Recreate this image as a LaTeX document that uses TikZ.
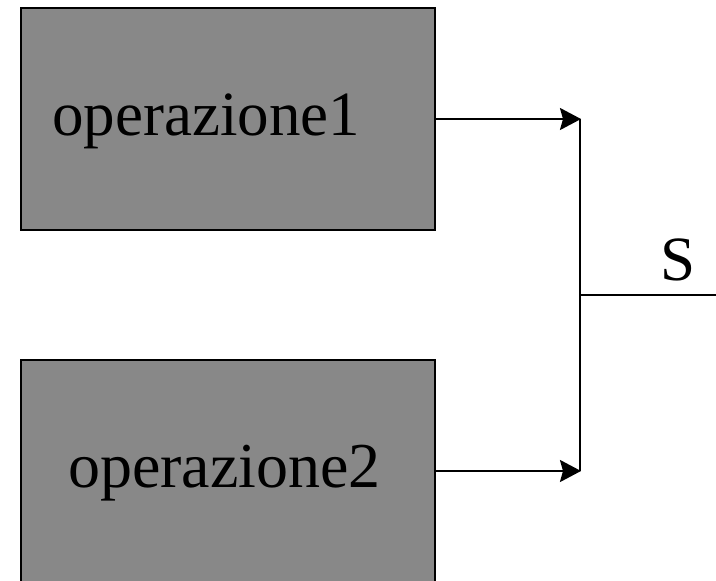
\documentclass[tikz,border=0pt]{standalone}
\usepackage{fontspec}
\setmainfont{Liberation Serif}
\usetikzlibrary{arrows.meta}
\begin{document}
\begin{tikzpicture}[x=1pt,y=-1pt,
  opbox/.style={draw=black, line width=2pt, fill=opgray, rectangle,
    minimum width=414pt, minimum height=222pt, inner sep=0pt},
  optext/.style={anchor=base west, inner sep=0pt, font=\fontsize{63}{70}\selectfont},
  flow/.style={line width=2.2pt},
  flowarrow/.style={flow, -{Stealth[length=21pt 0,width=22pt 0,inset=3pt 0]}, shorten >=-1pt}]
\definecolor{opgray}{HTML}{888888}
\useasboundingbox (0,0) rectangle (716,581);
\clip (0,0) rectangle (716,581);
% operation blocks
\node[opbox] (op1) at (228,119) {};
\node[opbox] (op2) at (228,471) {};
\node[optext] (t1) at (52,135) {operazione1};
\node[optext] (t2) at (68,487) {\fontsize{64}{70}\selectfont operazione2};
% junction of the two outputs
\coordinate (j1) at (580,119);
\coordinate (j2) at (580,471);
\coordinate (jm) at (580,295);
\coordinate (out) at (718,295);
\draw[flowarrow] (op1.east) -- (j1);
\draw[flowarrow] (op2.east) -- (j2);
\draw[flow] (j1) -- (j2);
\draw[flow] (jm) -- (out);
\node[optext] (s) at (660,280) {S};
\end{tikzpicture}
\end{document}
